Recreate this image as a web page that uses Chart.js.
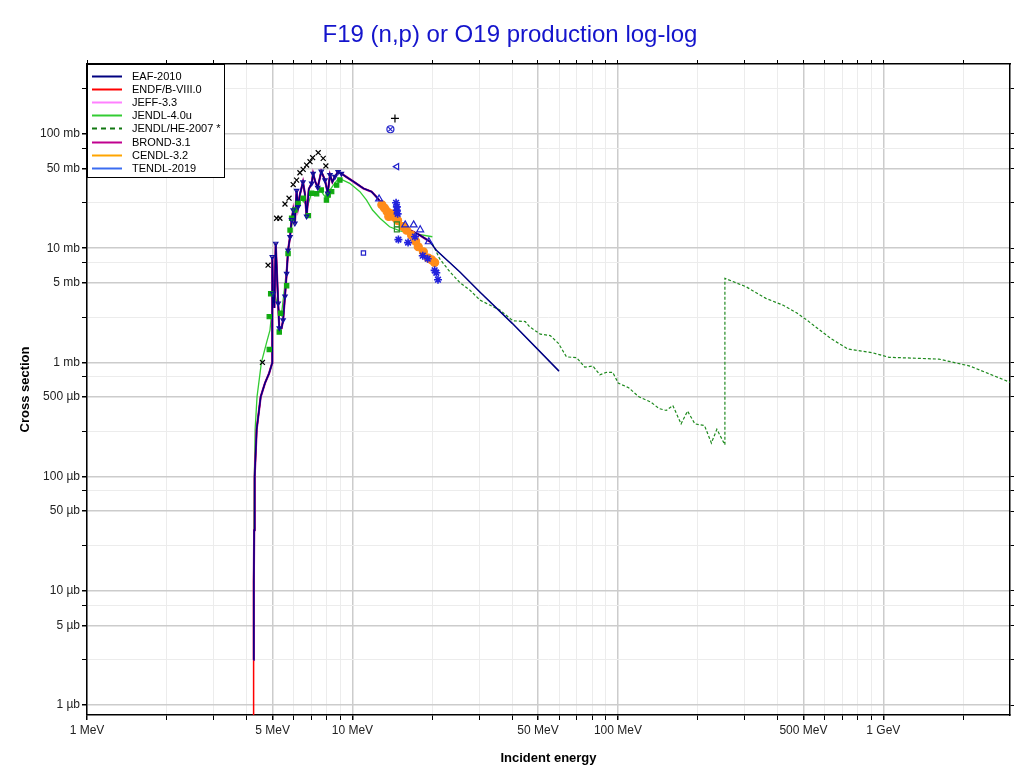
<!DOCTYPE html>
<html>
<head>
<meta charset="utf-8">
<script src="https://cdn.jsdelivr.net/npm/chart.js@4/dist/chart.umd.min.js"></script>
<style>
  html, body { margin: 0; padding: 0; background: #fff; }
</style>
</head>
<body>
<canvas id="xsChart" width="1020" height="774"></canvas>
<script>
// energies in MeV, cross sections in mb
const thrE  = [4.235, 4.25, 4.264, 4.282, 4.357, 4.511, 4.683, 4.85, 4.985];
const thrXS = [0.0025, 0.012, 0.034, 0.1, 0.26, 0.5, 0.66, 0.8, 0.99];

const eafE  = [4.99, 5.02, 5.08, 5.14, 5.25, 5.30, 5.41, 5.48, 5.57, 5.65, 5.72, 5.82, 5.90, 5.98, 6.07, 6.16, 6.24, 6.35, 6.51, 6.62, 6.72, 6.85, 7.02, 7.11, 7.25, 7.4, 7.63, 7.88, 8.07, 8.23, 8.4, 8.59, 8.83, 9.09, 9.5, 10.1, 11.0, 11.8, 12.3, 12.9, 13.5, 14.3, 16.0, 17.95, 19.6, 20.7, 25.4, 30, 40, 60];
const eafXS = [8.4, 4.0, 3.0, 11.0, 3.3, 2.0, 2.0, 2.35, 3.8, 6.0, 9.6, 12.6, 17.7, 21.6, 16.5, 32, 23, 30, 38, 30, 19, 33, 37, 45, 38, 34, 47, 39.5, 30.3, 44, 38, 42.3, 46.7, 45, 42, 38.2, 33.4, 31.3, 28.2, 24.7, 21.6, 17.7, 14.9, 13.0, 11.4, 9.6, 6.2, 4.2, 2.2, 0.84];

const endfStartE  = [4.232];
const endfStartXS = [0.0001];

const cendlTailE  = [14.0, 15.0, 16.0, 17.0, 18.0, 19.0, 20.0];
const cendlTailXS = [20.0, 17.0, 14.4, 12.0, 10.0, 8.6, 7.6];

const jendl4E  = [4.235, 4.25, 4.27, 4.30, 4.37, 4.54, 4.75, 4.89, 5.0, 5.1, 5.25, 5.4, 5.55, 5.7, 5.85, 6.0, 6.2, 6.4, 6.6, 6.8, 7.0, 7.3, 7.6, 7.9, 8.2, 8.5, 8.8, 9.0, 9.77, 10.67, 11.3, 11.9, 12.7, 13.8, 15.1, 16.9, 20.0];
const jendl4XS = [0.0025, 0.03, 0.1, 0.26, 0.5, 1.0, 1.5, 1.92, 3.2, 4.0, 3.0, 2.6, 4.5, 8, 14, 19, 24, 27, 25, 24, 30, 31, 32, 28, 32, 36, 40, 40.5, 37, 31.3, 26.4, 21.6, 18.3, 15.4, 14.2, 13.5, 12.6];

const jendlHeE  = [20.0, 21.3, 23.3, 25.4, 27.7, 30.2, 32.9, 35.9, 40.2, 44.8, 46.5, 51, 55.6, 59.7, 64, 70, 75, 80.5, 85.5, 90.7, 95.6, 100.3, 109.8, 120, 133, 143, 152, 161, 173, 183, 195, 212, 225, 236, 253, 253, 304, 361, 418, 471, 515, 634, 736, 906, 1050, 1620, 2120, 3000];
const jendlHeXS = [11.0, 8.1, 6.2, 5.0, 4.3, 3.52, 3.18, 2.88, 2.32, 2.28, 2.05, 1.77, 1.72, 1.47, 1.12, 1.1, 0.91, 0.93, 0.78, 0.82, 0.82, 0.66, 0.60, 0.50, 0.45, 0.395, 0.38, 0.42, 0.29, 0.375, 0.29, 0.28, 0.197, 0.26, 0.19, 5.45, 4.6, 3.64, 3.18, 2.72, 2.35, 1.62, 1.31, 1.22, 1.11, 1.07, 0.93, 0.67];

// experimental points
const crossE  = [4.58, 4.81, 5.18, 5.33, 5.57, 5.77, 5.98, 6.16, 6.34, 6.52, 6.72, 6.92, 7.08, 7.43, 7.76, 7.94];
const crossXS = [1.0, 7.1, 18.3, 18.3, 24.4, 27.4, 36.1, 39.5, 45.8, 49, 53.5, 57.2, 62, 68.6, 61.2, 52.5];
const plusE = [14.46], plusXS = [137];
const otimesE = [13.9], otimesXS = [110];
const leftTriE = [14.7], leftTriXS = [51.8];
const shieldE = [11.0], shieldXS = [9.1];
const triE  = [12.6, 15.8, 17.0, 18.0, 19.4];
const triXS = [27, 16, 16, 14.5, 11.4];
const starE  = [14.6, 14.7, 14.7, 14.8, 14.9, 16.2, 17.2, 18.4, 19.2, 20.4, 20.7, 21.0];
const starXS = [25, 23, 21.5, 20, 11.9, 11.2, 12.6, 8.6, 8.1, 6.4, 6.1, 5.3];
const orangeE  = [12.9, 13.2, 13.5, 13.7, 14.0, 14.3, 14.5, 14.8, 15.5, 16.0, 16.7, 17.3, 17.7, 18.5, 19.3, 19.9, 20.4];
const orangeXS = [24, 22.5, 21, 19, 20, 19, 18.5, 17.5, 15.5, 14.4, 13, 11.5, 10.3, 9.3, 8.2, 7.9, 7.5];
const greenSqE  = [4.86, 4.86, 4.92, 5.30, 5.36, 5.65, 5.72, 5.82, 5.90, 6.07, 6.24, 6.52, 6.82, 7.02, 7.33, 7.63, 7.98, 8.1, 8.35, 8.72, 8.97];
const greenSqXS = [1.3, 2.52, 4.0, 1.85, 2.7, 4.7, 9.0, 14.4, 18.3, 21.6, 24.7, 27.4, 19.3, 30.3, 30, 32.3, 26.4, 29.2, 31.3, 35.7, 39.5];
const openSqE = [14.7, 14.7], openSqXS = [16.2, 14.6];
const downTriE  = [4.99, 5.02, 5.14, 5.25, 5.30, 5.48, 5.57, 5.65, 5.72, 5.82, 5.9, 5.98, 6.07, 6.16, 6.24, 6.51, 6.72, 7.02, 7.11, 7.4, 7.63, 7.88, 8.07, 8.23, 8.59, 8.83, 9.09];
const downTriXS = [8.4, 4.0, 11, 3.3, 2.0, 2.35, 3.8, 6.0, 9.6, 12.6, 17.7, 21.6, 16.5, 32, 23, 38, 19, 37, 45, 34, 47, 39.5, 30.3, 44, 42.3, 46.7, 45];

const legendNames  = ['EAF-2010', 'ENDF/B-VIII.0', 'JEFF-3.3', 'JENDL-4.0u', 'JENDL/HE-2007 *', 'BROND-3.1', 'CENDL-3.2', 'TENDL-2019'];
const legendColors = ['#000080', '#ff0000', '#ff80ff', '#33cc33', '#117711', '#c0008f', '#ffa500', '#3b6cf0'];

const xMants = [1, 2, 3, 4, 5, 6, 7, 8, 9];
const yMants = [1, 2.5, 5, 7.5];
const X_MIN = 1, X_MAX = 3000, Y_MIN = 8.2e-4, Y_MAX = 410;

function pts(E, XS) { return E.map((e, i) => ({x: e, y: XS[i]})); }
function upTo(E, XS, lim) {
    const n = E.filter(e => e <= lim).length;
    return [E.slice(0, n), XS.slice(0, n)];
}

const [e20, xs20] = upTo(eafE, eafXS, 20);
const [e13, xs13] = upTo(eafE, eafXS, 13);
const eafFullE = thrE.concat(eafE), eafFullXS = thrXS.concat(eafXS);

function mantissa(v) {
    const e = Math.floor(Math.log10(v) + 1e-9);
    return Math.round(v / Math.pow(10, e) * 100) / 100;
}
function tickList(mants, lo, hi) {
    const out = [];
    for (let e = -4; e <= 4; e++) {
        for (const m of mants) {
            const v = +(m * Math.pow(10, e)).toPrecision(6);
            if (v >= lo * 0.999 && v <= hi * 1.001) out.push({value: v});
        }
    }
    return out;
}
function isLabelled(v) { const m = mantissa(v); return m === 1 || m === 5; }
function fmtX(v) {
    if (!isLabelled(v)) return '';
    return v >= 1000 ? (v / 1000) + ' GeV' : v + ' MeV';
}
function fmtY(v) {
    if (!isLabelled(v)) return '';
    return v >= 1 ? v + ' mb' : Math.round(v * 1000) + ' µb';
}
const gridColor = c => (c.tick && isLabelled(c.tick.value)) ? '#cccccc' : '#ececec';
const gridWidth = c => (c.tick && isLabelled(c.tick.value)) ? 1.5 : 1;

function curve(label, E, XS, color, width, extra) {
    return Object.assign({
        label: label, data: pts(E, XS), showLine: true, borderColor: color,
        backgroundColor: color, borderWidth: width, pointRadius: 0, tension: 0
    }, extra || {});
}
function marks(label, E, XS, style, color, fill, radius, extra) {
    return Object.assign({
        label: label, data: pts(E, XS), showLine: false, pointStyle: style,
        pointRadius: radius, borderColor: color, pointBorderColor: color,
        pointBackgroundColor: fill, backgroundColor: fill, pointBorderWidth: 1.2
    }, extra || {});
}

const datasets = [
    marks('exp x', crossE, crossXS, 'crossRot', '#000', '#000', 3.5),
    marks('exp +', plusE, plusXS, 'cross', '#000', '#000', 4),
    marks('exp o', otimesE, otimesXS, 'circle', '#2222cc', 'rgba(0,0,0,0)', 3.5),
    marks('exp ox', otimesE, otimesXS, 'crossRot', '#2222cc', '#2222cc', 3),
    marks('exp <', leftTriE, leftTriXS, 'triangle', '#2222cc', 'rgba(0,0,0,0)', 3.5, {rotation: 270}),
    marks('exp shield', shieldE, shieldXS, 'rect', '#2222cc', 'rgba(0,0,0,0)', 3),
    marks('exp tri', triE, triXS, 'triangle', '#2222cc', 'rgba(0,0,0,0)', 4),
    marks('exp star', starE, starXS, 'star', '#2222dd', '#2222dd', 4, {pointBorderWidth: 1.6}),
    marks('exp open sq', openSqE, openSqXS, 'rect', '#2a8a2a', 'rgba(0,0,0,0)', 3.5),
    marks('exp down tri', downTriE, downTriXS, 'triangle', '#1010a0', 'rgba(0,0,0,0)', 2.5, {rotation: 180}),
    marks('exp orange', orangeE, orangeXS, 'circle', '#ff8c1a', '#ff8c1a', 4),
    marks('exp green', greenSqE, greenSqXS, 'rect', '#11aa11', '#11aa11', 3),
    curve('EAF-2010', eafFullE, eafFullXS, legendColors[0], 1.5),
    curve('BROND-3.1', thrE.concat(e20), thrXS.concat(xs20), legendColors[5], 2.2),
    curve('TENDL-2019', eafFullE, eafFullXS, legendColors[7], 1),
    curve('CENDL-3.2', thrE.concat(e13, cendlTailE), thrXS.concat(xs13, cendlTailXS), legendColors[6], 1),
    curve('JEFF-3.3', thrE.concat(e20), thrXS.concat(xs20), legendColors[2], 1),
    curve('ENDF/B-VIII.0', endfStartE.concat(thrE, e20), endfStartXS.concat(thrXS, xs20), legendColors[1], 1.5),
    curve('JENDL-4.0u', jendl4E, jendl4XS, legendColors[3], 1.3),
    curve('JENDL/HE-2007 *', jendlHeE, jendlHeXS, '#1e8a1e', 1.2, {borderDash: [3, 2]})
];

const boxLegend = {
    id: 'boxLegend',
    afterDraw(chart) {
        const {ctx, chartArea} = chart;
        const x0 = chartArea.left, y0 = chartArea.top;
        ctx.save();
        ctx.fillStyle = '#fff';
        ctx.fillRect(x0, y0, 137, 113);
        ctx.strokeStyle = '#000';
        ctx.lineWidth = 1;
        ctx.strokeRect(x0 + 0.5, y0 + 0.5, 137, 113);
        ctx.font = '11px "Liberation Sans", Arial, sans-serif';
        ctx.textBaseline = 'middle';
        legendNames.forEach((name, i) => {
            const y = Math.round(y0 + 12 + i * 13.1) + 0.5;
            ctx.strokeStyle = legendColors[i];
            ctx.lineWidth = 2;
            ctx.setLineDash(name.indexOf('HE') >= 0 ? [5, 4] : []);
            ctx.beginPath();
            ctx.moveTo(x0 + 5, y);
            ctx.lineTo(x0 + 35, y);
            ctx.stroke();
            ctx.setLineDash([]);
            ctx.fillStyle = '#000';
            ctx.fillText(name, x0 + 45, y);
        });
        ctx.restore();
    }
};

Chart.defaults.font.family = '"Liberation Sans", Arial, Helvetica, sans-serif';

function logAxis(pos, lo, hi, mants, tickHi, size, extra) {
    const horiz = pos === 'top' || pos === 'bottom';
    return Object.assign({
        type: 'logarithmic', position: pos, min: lo, max: hi, bounds: 'data',
        afterBuildTicks: s => { s.ticks = tickList(mants, lo, tickHi); },
        afterFit: s => { if (horiz) s.height = size; else s.width = size; },
        grid: { drawOnChartArea: false, tickColor: '#000', tickLength: 4 },
        ticks: { display: false },
        border: { color: '#000', width: 1.5 }
    }, extra || {});
}

new Chart(document.getElementById('xsChart'), {
    type: 'scatter',
    data: { datasets: datasets },
    options: {
        responsive: false,
        devicePixelRatio: 1,
        animation: false,
        events: [],
        layout: { padding: 0 },
        plugins: {
            legend: { display: false },
            tooltip: { enabled: false },
            title: {
                display: true,
                text: 'F19 (n,p) or O19 production log-log',
                color: '#1414cc',
                font: { size: 24, weight: 'normal' },
                padding: { top: 21, bottom: 0 }
            }
        },
        scales: {
            x: logAxis('bottom', X_MIN, X_MAX, xMants, 2000, 59, {
                ticks: { autoSkip: false, maxRotation: 0, padding: 3, color: '#222', font: { size: 12 }, callback: v => fmtX(v) },
                grid: { color: gridColor, lineWidth: gridWidth, tickColor: '#000', tickLength: 5 },
                title: { display: true, text: 'Incident energy', color: '#000', font: { size: 13, weight: 'bold' }, padding: { top: 0, bottom: 8 } }
            }),
            y: logAxis('left', Y_MIN, Y_MAX, yMants, Y_MAX, 87, {
                ticks: { autoSkip: false, padding: 2, color: '#222', font: { size: 12 }, callback: v => fmtY(v) },
                grid: { color: gridColor, lineWidth: gridWidth, tickColor: '#000', tickLength: 5 },
                title: { display: true, text: 'Cross section', color: '#000', font: { size: 13, weight: 'bold' }, padding: { top: 18, bottom: 0 } }
            }),
            x2: logAxis('top', X_MIN, X_MAX, xMants, 2000, 14.2),
            y2: logAxis('right', Y_MIN, Y_MAX, yMants, Y_MAX, 10)
        }
    },
    plugins: [boxLegend]
});
</script>
</body>
</html>
